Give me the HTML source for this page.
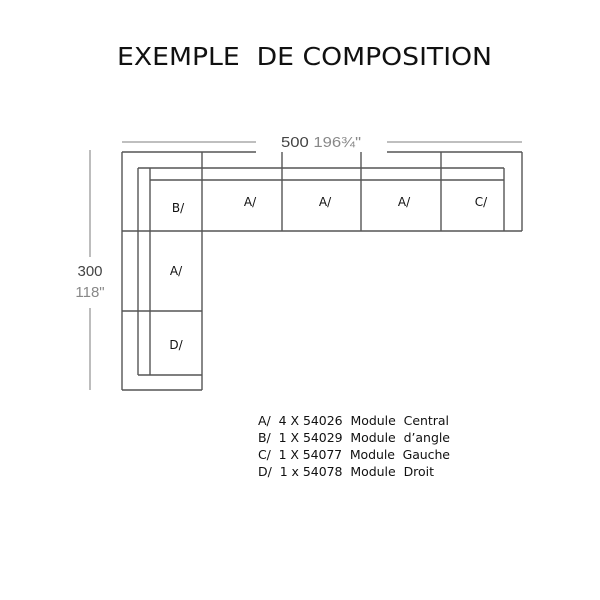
<!DOCTYPE html>
<html><head><meta charset="utf-8"><style>body{margin:0;background:#fff}svg{display:block}text{white-space:pre}</style></head><body>
<svg width="600" height="600" xmlns="http://www.w3.org/2000/svg" font-family="DejaVu Sans, Liberation Sans, sans-serif">
<rect width="600" height="600" fill="#fff"/>
<text x="117" y="65" font-size="25" textLength="375" lengthAdjust="spacingAndGlyphs" fill="#111">EXEMPLE  DE COMPOSITION</text>
<g stroke="#999" stroke-width="1.3" fill="none">
<line x1="122" y1="142" x2="256" y2="142"/><line x1="387" y1="142" x2="522" y2="142"/>
<line x1="90" y1="150" x2="90" y2="257"/><line x1="90" y1="308" x2="90" y2="390"/>
</g>
<g stroke="#555" stroke-width="1.4" fill="none">
<line x1="122" y1="152" x2="256" y2="152"/><line x1="387" y1="152" x2="522" y2="152"/>
<line x1="122" y1="152" x2="122" y2="390"/><line x1="122" y1="390" x2="202" y2="390"/>
<line x1="202" y1="152" x2="202" y2="390"/>
<line x1="522" y1="152" x2="522" y2="231"/>
<line x1="138" y1="168" x2="504" y2="168"/><line x1="138" y1="168" x2="138" y2="375"/>
<line x1="138" y1="375" x2="202" y2="375"/><line x1="504" y1="168" x2="504" y2="231"/>
<line x1="150" y1="168" x2="150" y2="375"/><line x1="150" y1="180" x2="504" y2="180"/>
<line x1="122" y1="231" x2="522" y2="231"/><line x1="122" y1="311" x2="202" y2="311"/>
<line x1="282" y1="152" x2="282" y2="231"/><line x1="361" y1="152" x2="361" y2="231"/>
<line x1="441" y1="152" x2="441" y2="231"/>
</g>
<g font-size="12" fill="#111" text-anchor="middle">
<text x="178" y="212">B/</text><text x="250" y="206">A/</text><text x="325" y="206">A/</text>
<text x="404" y="206">A/</text><text x="481" y="206">C/</text>
<text x="176" y="275">A/</text><text x="176" y="349">D/</text>
</g>
<text x="281" y="147" font-size="14.5" fill="#444" font-family="Liberation Sans, sans-serif" textLength="80" lengthAdjust="spacingAndGlyphs">500 <tspan fill="#888">196¾"</tspan></text>
<text x="90" y="276" font-size="15" fill="#444" text-anchor="middle" font-family="Liberation Sans, sans-serif">300</text>
<text x="90" y="297" font-size="15" fill="#888" text-anchor="middle" font-family="Liberation Sans, sans-serif">118"</text>
<g font-size="12.5" fill="#111">
<text x="258" y="425" textLength="191">A/  4 X 54026  Module  Central</text>
<text x="258" y="442" textLength="192">B/  1 X 54029  Module  d’angle</text>
<text x="258" y="459" textLength="192">C/  1 X 54077  Module  Gauche</text>
<text x="258" y="476" textLength="176">D/  1 x 54078  Module  Droit</text>
</g>
</svg>
</body></html>
